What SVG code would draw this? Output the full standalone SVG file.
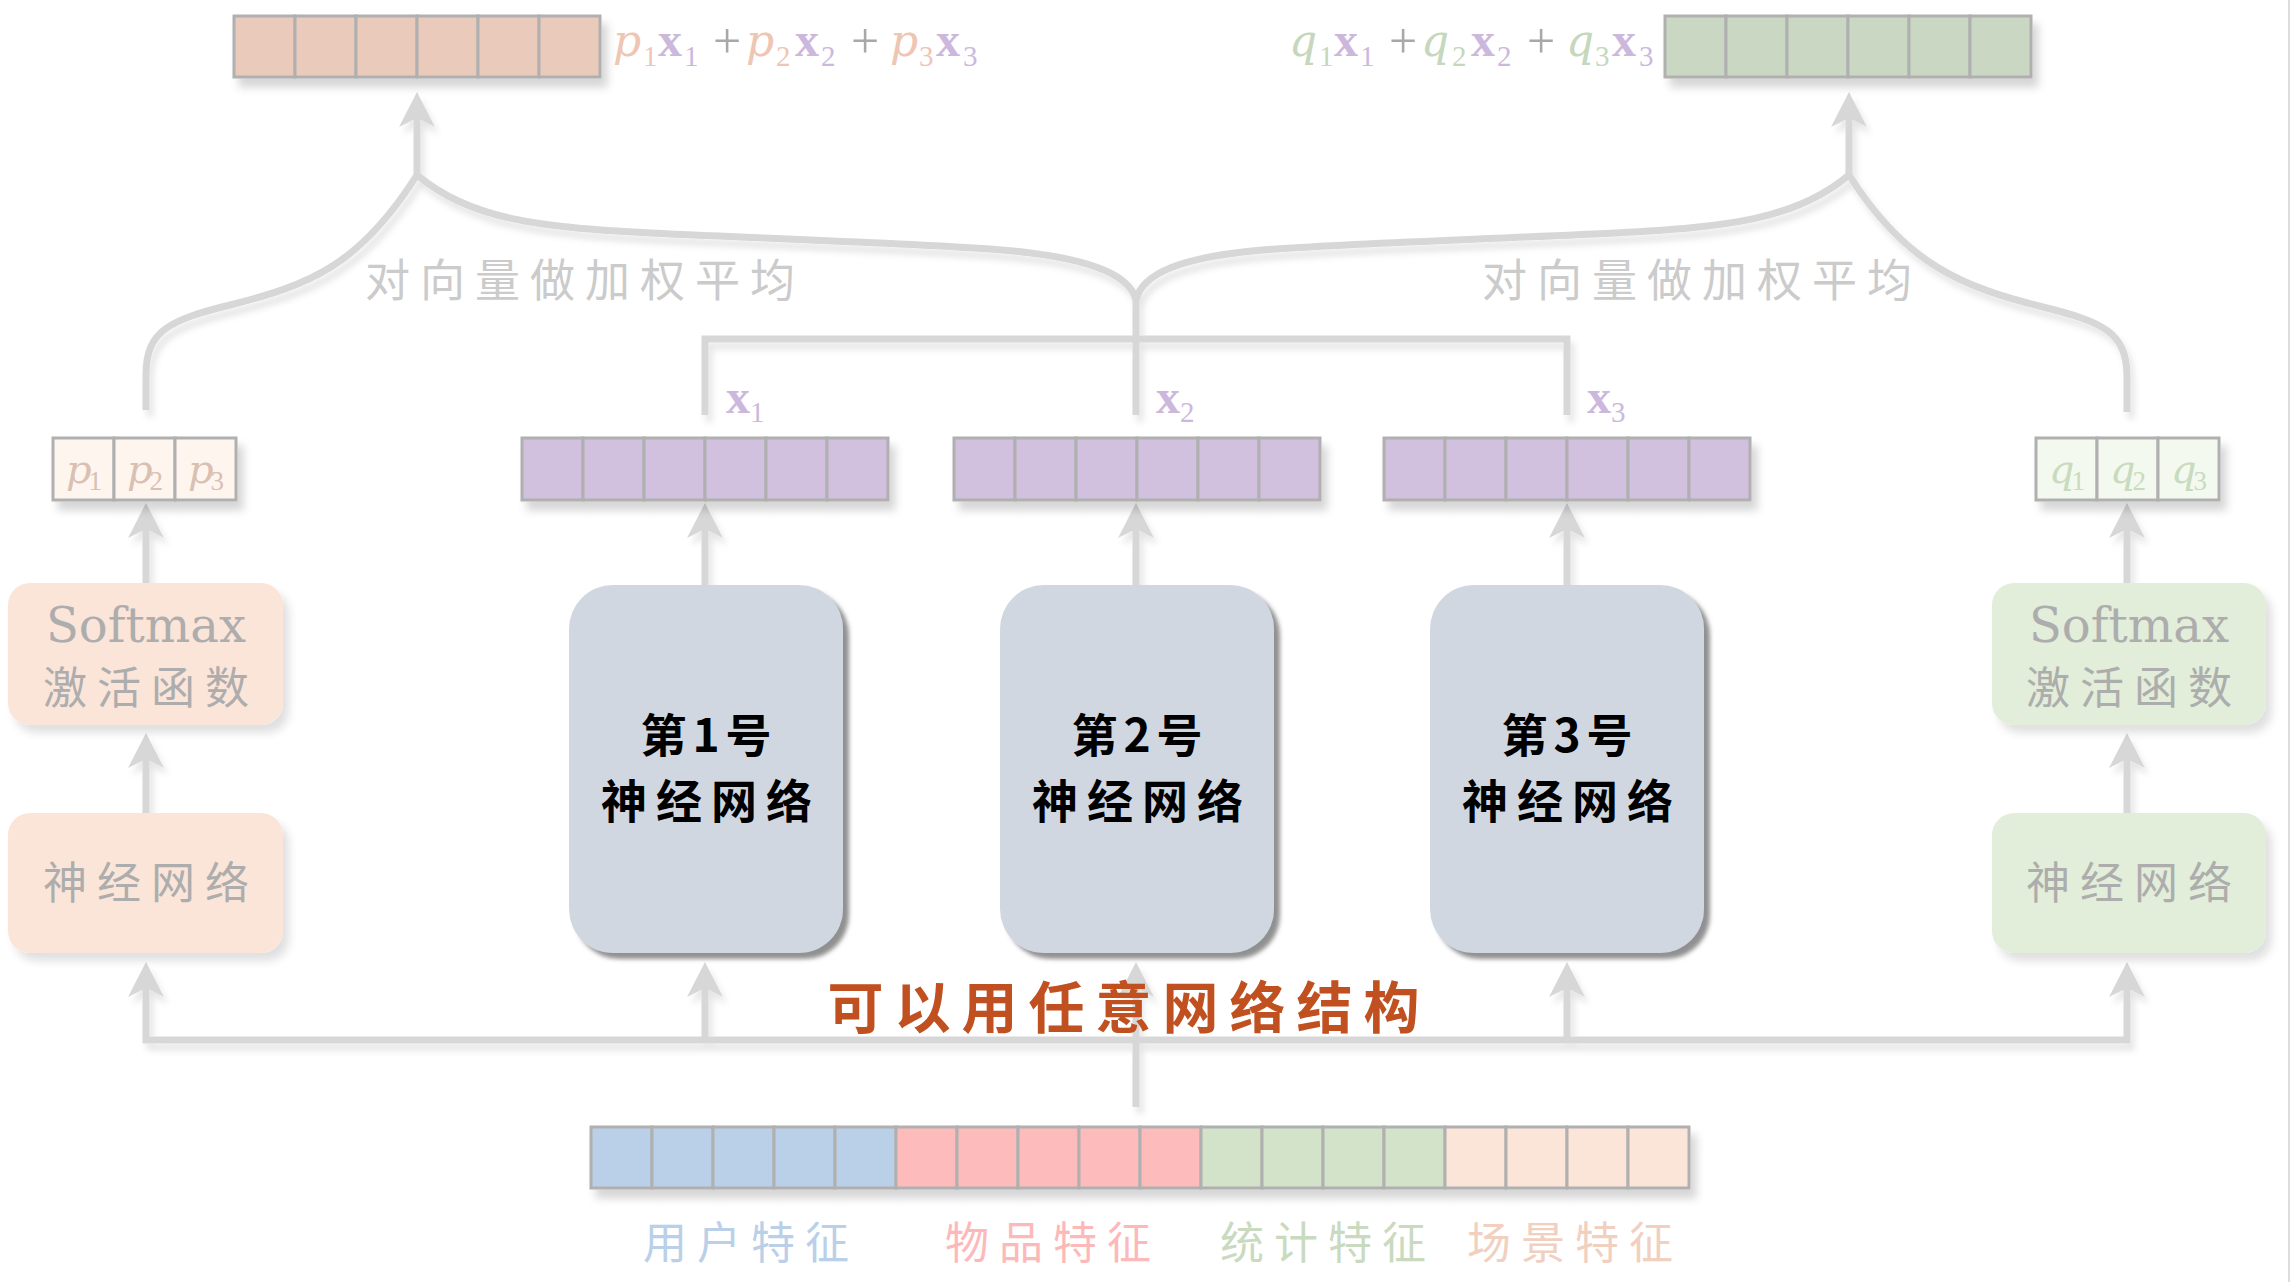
<svg xmlns="http://www.w3.org/2000/svg" width="2294" height="1282" viewBox="0 0 2294 1282">
<defs>
<style>
.conn{fill:none;stroke:#D7D7D7;stroke-width:7;stroke-linejoin:miter}
.arr{marker-end:url(#ah)}
.cell{stroke:#B0B0B0;stroke-width:3}
.cjk{font-family:"Noto Sans CJK SC","Noto Sans",sans-serif}
.math{font-family:"Liberation Serif","DejaVu Serif",serif}
.it{font-family:"DejaVu Serif","Liberation Serif",serif;font-style:italic}
.big{font-size:46px;font-weight:700;fill:#000;text-anchor:middle}
.gray{fill:#ADADAD;text-anchor:middle}
</style>
<marker id="ah" markerUnits="userSpaceOnUse" markerWidth="40" markerHeight="40" viewBox="0 -20 40 40" refX="9" refY="0" orient="auto">
<path d="M35,0 L0,-18 L9,0 L0,18 Z" fill="#D7D7D7"/>
</marker>
<marker id="ahs" markerUnits="userSpaceOnUse" markerWidth="40" markerHeight="40" viewBox="0 -20 40 40" refX="9" refY="0" orient="auto-start-reverse">
<path d="M35,0 L0,-18 L9,0 L0,18 Z" fill="#D7D7D7"/>
</marker>
<filter id="fconn" x="-10%" y="-10%" width="120%" height="130%">
<feDropShadow dx="4" dy="7" stdDeviation="3" flood-color="#000" flood-opacity="0.10"/>
</filter>
<filter id="fvec" x="-10%" y="-20%" width="125%" height="160%">
<feDropShadow dx="6" dy="9" stdDeviation="4" flood-color="#000" flood-opacity="0.16"/>
</filter>
<filter id="fbox" x="-10%" y="-10%" width="125%" height="130%">
<feDropShadow dx="6" dy="8" stdDeviation="4" flood-color="#000" flood-opacity="0.12"/>
</filter>
<filter id="fbig" x="-10%" y="-10%" width="125%" height="125%">
<feDropShadow dx="6" dy="6" stdDeviation="2" flood-color="#555" flood-opacity="0.65"/>
</filter>
</defs>
<rect width="2294" height="1282" fill="#FFFFFF"/>
<line x1="2289" y1="0" x2="2289" y2="1282" stroke="#DDDDDD" stroke-width="2"/>

<g id="connectors" filter="url(#fconn)">
<path class="conn arr" d="M417,175 L417,118"/>
<path class="conn arr" d="M1849,175 L1849,118"/>
<path class="conn" d="M146,410 L146,375 C146,330 170,320 230,305 C310,285 360,265 417,175"/>
<path class="conn" d="M417,175 C470,220 540,227 650,233 C800,240 900,243 990,249 C1090,256 1130,275 1136,300"/>
<path class="conn" d="M2127,412 L2127,377 C2127,332 2103,322 2043,307 C1963,287 1906,265 1849,175"/>
<path class="conn" d="M1849,175 C1796,220 1726,227 1616,233 C1466,240 1366,243 1276,249 C1176,256 1142,275 1136,300"/>
<path class="conn" d="M1136,296 L1136,415"/>
<path class="conn" d="M705,415 L705,339 L1567,339 L1567,415"/>
<path class="conn arr" d="M146,583 L146,529"/>
<path class="conn arr" d="M146,813 L146,759"/>
<path class="conn arr" d="M2127,583 L2127,529"/>
<path class="conn arr" d="M2127,813 L2127,759"/>
<path class="conn arr" d="M705,585 L705,529"/>
<path class="conn arr" d="M1136,585 L1136,529"/>
<path class="conn arr" d="M1567,585 L1567,529"/>
<path class="conn" d="M146,988 L146,1040 L2127,1040 L2127,988" marker-start="url(#ahs)" marker-end="url(#ah)"/>
<path class="conn arr" d="M705,1040 L705,988"/>
<path class="conn arr" d="M1567,1040 L1567,988"/>
<path class="conn arr" d="M1136,1107 L1136,988"/>
</g>

<g id="out-p" filter="url(#fvec)">
<rect class="cell" x="234" y="16" width="61" height="61" fill="#EACBBB"/>
<rect class="cell" x="295" y="16" width="61" height="61" fill="#EACBBB"/>
<rect class="cell" x="356" y="16" width="61" height="61" fill="#EACBBB"/>
<rect class="cell" x="417" y="16" width="61" height="61" fill="#EACBBB"/>
<rect class="cell" x="478" y="16" width="61" height="61" fill="#EACBBB"/>
<rect class="cell" x="539" y="16" width="61" height="61" fill="#EACBBB"/>
</g>
<g id="formula-p" class="math" font-size="48">
<text class="it" fill="#EEC6B3" font-size="44" x="613" y="56">p</text>
<text fill="#EEC6B3" font-size="29" x="643" y="66">1</text>
<text fill="#CDB8DD" font-weight="700" x="658" y="56">x</text>
<text fill="#CDB8DD" font-size="29" x="684" y="66">1</text>
<text fill="#A8A8A8" font-size="50" x="713" y="58">+</text>
<text class="it" fill="#EEC6B3" font-size="44" x="746" y="56">p</text>
<text fill="#EEC6B3" font-size="29" x="776" y="66">2</text>
<text fill="#CDB8DD" font-weight="700" x="795" y="56">x</text>
<text fill="#CDB8DD" font-size="29" x="821" y="66">2</text>
<text fill="#A8A8A8" font-size="50" x="851" y="58">+</text>
<text class="it" fill="#EEC6B3" font-size="44" x="890" y="56">p</text>
<text fill="#EEC6B3" font-size="29" x="919" y="66">3</text>
<text fill="#CDB8DD" font-weight="700" x="936" y="56">x</text>
<text fill="#CDB8DD" font-size="29" x="963" y="66">3</text>
</g>

<g id="out-q" filter="url(#fvec)">
<rect class="cell" x="1665" y="16" width="61" height="61" fill="#CAD8C3"/>
<rect class="cell" x="1726" y="16" width="61" height="61" fill="#CAD8C3"/>
<rect class="cell" x="1787" y="16" width="61" height="61" fill="#CAD8C3"/>
<rect class="cell" x="1848" y="16" width="61" height="61" fill="#CAD8C3"/>
<rect class="cell" x="1909" y="16" width="61" height="61" fill="#CAD8C3"/>
<rect class="cell" x="1970" y="16" width="61" height="61" fill="#CAD8C3"/>
</g>
<g id="formula-q" class="math" font-size="48">
<text class="it" fill="#C5D7BC" font-size="44" x="1289" y="56">q</text>
<text fill="#C5D7BC" font-size="29" x="1319" y="66">1</text>
<text fill="#CDB8DD" font-weight="700" x="1334" y="56">x</text>
<text fill="#CDB8DD" font-size="29" x="1360" y="66">1</text>
<text fill="#A8A8A8" font-size="50" x="1389" y="58">+</text>
<text class="it" fill="#C5D7BC" font-size="44" x="1421" y="56">q</text>
<text fill="#C5D7BC" font-size="29" x="1452" y="66">2</text>
<text fill="#CDB8DD" font-weight="700" x="1471" y="56">x</text>
<text fill="#CDB8DD" font-size="29" x="1497" y="66">2</text>
<text fill="#A8A8A8" font-size="50" x="1527" y="58">+</text>
<text class="it" fill="#C5D7BC" font-size="44" x="1566" y="56">q</text>
<text fill="#C5D7BC" font-size="29" x="1595" y="66">3</text>
<text fill="#CDB8DD" font-weight="700" x="1612" y="56">x</text>
<text fill="#CDB8DD" font-size="29" x="1639" y="66">3</text>
</g>

<g id="label-avg-left"><text class="cjk" x="585" y="297" font-size="45" letter-spacing="10" fill="#CBCBCB" text-anchor="middle">对向量做加权平均</text></g>
<g id="label-avg-right"><text class="cjk" x="1702" y="297" font-size="45" letter-spacing="10" fill="#CBCBCB" text-anchor="middle">对向量做加权平均</text></g>

<g id="labels-x" class="math" font-size="48" fill="#CDB8DD" font-weight="700">
<text x="726" y="413">x<tspan font-size="29" font-weight="400" dy="9">1</tspan></text>
<text x="1156" y="413">x<tspan font-size="29" font-weight="400" dy="9">2</tspan></text>
<text x="1587" y="413">x<tspan font-size="29" font-weight="400" dy="9">3</tspan></text>
</g>

<g id="vec-p" filter="url(#fvec)">
<rect class="cell" x="53" y="438" width="61" height="62" fill="#FEF5EF"/>
<rect class="cell" x="114" y="438" width="61" height="62" fill="#FEF5EF"/>
<rect class="cell" x="175" y="438" width="61" height="62" fill="#FEF5EF"/>
</g>
<g id="vec-p-text" font-size="40" fill="#D9C0B3" text-anchor="middle">
<text class="it" x="84" y="483">p<tspan class="math" font-size="27" font-style="normal" dx="-3" dy="7">1</tspan></text>
<text class="it" x="145" y="483">p<tspan class="math" font-size="27" font-style="normal" dx="-3" dy="7">2</tspan></text>
<text class="it" x="206" y="483">p<tspan class="math" font-size="27" font-style="normal" dx="-3" dy="7">3</tspan></text>
</g>

<g id="vec-q" filter="url(#fvec)">
<rect class="cell" x="2036" y="438" width="61" height="62" fill="#F3F9EF"/>
<rect class="cell" x="2097" y="438" width="61" height="62" fill="#F3F9EF"/>
<rect class="cell" x="2158" y="438" width="61" height="62" fill="#F3F9EF"/>
</g>
<g id="vec-q-text" font-size="40" fill="#C8DBBF" text-anchor="middle">
<text class="it" x="2067" y="483">q<tspan class="math" font-size="27" font-style="normal" dx="-3" dy="7">1</tspan></text>
<text class="it" x="2128" y="483">q<tspan class="math" font-size="27" font-style="normal" dx="-3" dy="7">2</tspan></text>
<text class="it" x="2189" y="483">q<tspan class="math" font-size="27" font-style="normal" dx="-3" dy="7">3</tspan></text>
</g>

<g id="vec-x1" filter="url(#fvec)">
<rect class="cell" x="522" y="438" width="61" height="62" fill="#D1C0DE"/>
<rect class="cell" x="583" y="438" width="61" height="62" fill="#D1C0DE"/>
<rect class="cell" x="644" y="438" width="61" height="62" fill="#D1C0DE"/>
<rect class="cell" x="705" y="438" width="61" height="62" fill="#D1C0DE"/>
<rect class="cell" x="766" y="438" width="61" height="62" fill="#D1C0DE"/>
<rect class="cell" x="827" y="438" width="61" height="62" fill="#D1C0DE"/>
</g>
<g id="vec-x2" filter="url(#fvec)">
<rect class="cell" x="954" y="438" width="61" height="62" fill="#D1C0DE"/>
<rect class="cell" x="1015" y="438" width="61" height="62" fill="#D1C0DE"/>
<rect class="cell" x="1076" y="438" width="61" height="62" fill="#D1C0DE"/>
<rect class="cell" x="1137" y="438" width="61" height="62" fill="#D1C0DE"/>
<rect class="cell" x="1198" y="438" width="61" height="62" fill="#D1C0DE"/>
<rect class="cell" x="1259" y="438" width="61" height="62" fill="#D1C0DE"/>
</g>
<g id="vec-x3" filter="url(#fvec)">
<rect class="cell" x="1384" y="438" width="61" height="62" fill="#D1C0DE"/>
<rect class="cell" x="1445" y="438" width="61" height="62" fill="#D1C0DE"/>
<rect class="cell" x="1506" y="438" width="61" height="62" fill="#D1C0DE"/>
<rect class="cell" x="1567" y="438" width="61" height="62" fill="#D1C0DE"/>
<rect class="cell" x="1628" y="438" width="61" height="62" fill="#D1C0DE"/>
<rect class="cell" x="1689" y="438" width="61" height="62" fill="#D1C0DE"/>
</g>

<g id="softmax-left">
<rect x="8" y="583" width="275" height="142" rx="22" fill="#FBE5D9" filter="url(#fbox)"/>
<text class="gray" font-family="DejaVu Serif, Liberation Serif, serif" x="146" y="642" font-size="48">Softmax</text>
<text class="cjk gray" x="151" y="704" font-size="44" letter-spacing="10">激活函数</text>
</g>
<g id="nn-left">
<rect x="8" y="813" width="275" height="140" rx="22" fill="#FBE5D9" filter="url(#fbox)"/>
<text class="cjk gray" x="151" y="899" font-size="44" letter-spacing="10">神经网络</text>
</g>
<g id="softmax-right">
<rect x="1992" y="583" width="274" height="142" rx="22" fill="#E2EDDA" filter="url(#fbox)"/>
<text class="gray" font-family="DejaVu Serif, Liberation Serif, serif" x="2129" y="642" font-size="48">Softmax</text>
<text class="cjk gray" x="2134" y="704" font-size="44" letter-spacing="10">激活函数</text>
</g>
<g id="nn-right">
<rect x="1992" y="813" width="274" height="140" rx="22" fill="#E2EDDA" filter="url(#fbox)"/>
<text class="cjk gray" x="2134" y="899" font-size="44" letter-spacing="10">神经网络</text>
</g>

<g id="expert-1">
<rect x="569" y="585" width="274" height="368" rx="44" fill="#D0D7E1" filter="url(#fbig)"/>
<text class="cjk big" x="709" y="752" letter-spacing="6">第1号</text>
<text class="cjk big" x="711" y="818" letter-spacing="9">神经网络</text>
</g>
<g id="expert-2">
<rect x="1000" y="585" width="274" height="368" rx="44" fill="#D0D7E1" filter="url(#fbig)"/>
<text class="cjk big" x="1140" y="752" letter-spacing="6">第2号</text>
<text class="cjk big" x="1142" y="818" letter-spacing="9">神经网络</text>
</g>
<g id="expert-3">
<rect x="1430" y="585" width="274" height="368" rx="44" fill="#D0D7E1" filter="url(#fbig)"/>
<text class="cjk big" x="1570" y="752" letter-spacing="6">第3号</text>
<text class="cjk big" x="1572" y="818" letter-spacing="9">神经网络</text>
</g>

<g id="label-any"><text class="cjk" x="1129" y="1028" font-size="56" font-weight="700" letter-spacing="11" fill="#C0501F" text-anchor="middle">可以用任意网络结构</text></g>

<g id="features" filter="url(#fvec)">
<rect class="cell" x="591" y="1127" width="61" height="61" fill="#BAD0E8"/>
<rect class="cell" x="652" y="1127" width="61" height="61" fill="#BAD0E8"/>
<rect class="cell" x="713" y="1127" width="61" height="61" fill="#BAD0E8"/>
<rect class="cell" x="774" y="1127" width="61" height="61" fill="#BAD0E8"/>
<rect class="cell" x="835" y="1127" width="61" height="61" fill="#BAD0E8"/>
<rect class="cell" x="896" y="1127" width="61" height="61" fill="#FDBBBB"/>
<rect class="cell" x="957" y="1127" width="61" height="61" fill="#FDBBBB"/>
<rect class="cell" x="1018" y="1127" width="61" height="61" fill="#FDBBBB"/>
<rect class="cell" x="1079" y="1127" width="61" height="61" fill="#FDBBBB"/>
<rect class="cell" x="1140" y="1127" width="61" height="61" fill="#FDBBBB"/>
<rect class="cell" x="1201" y="1127" width="61" height="61" fill="#D3E3C9"/>
<rect class="cell" x="1262" y="1127" width="61" height="61" fill="#D3E3C9"/>
<rect class="cell" x="1323" y="1127" width="61" height="61" fill="#D3E3C9"/>
<rect class="cell" x="1384" y="1127" width="61" height="61" fill="#D3E3C9"/>
<rect class="cell" x="1445" y="1127" width="61" height="61" fill="#FBE5D9"/>
<rect class="cell" x="1506" y="1127" width="61" height="61" fill="#FBE5D9"/>
<rect class="cell" x="1567" y="1127" width="61" height="61" fill="#FBE5D9"/>
<rect class="cell" x="1628" y="1127" width="61" height="61" fill="#FBE5D9"/>
</g>
<g id="feature-labels" class="cjk" font-size="44" letter-spacing="10" text-anchor="middle">
<text x="751" y="1259" fill="#BAD0E9">用户特征</text>
<text x="1053" y="1259" fill="#FDB9B9">物品特征</text>
<text x="1328" y="1259" fill="#C9DABF">统计特征</text>
<text x="1575" y="1259" fill="#F1D0C0">场景特征</text>
</g>
</svg>
